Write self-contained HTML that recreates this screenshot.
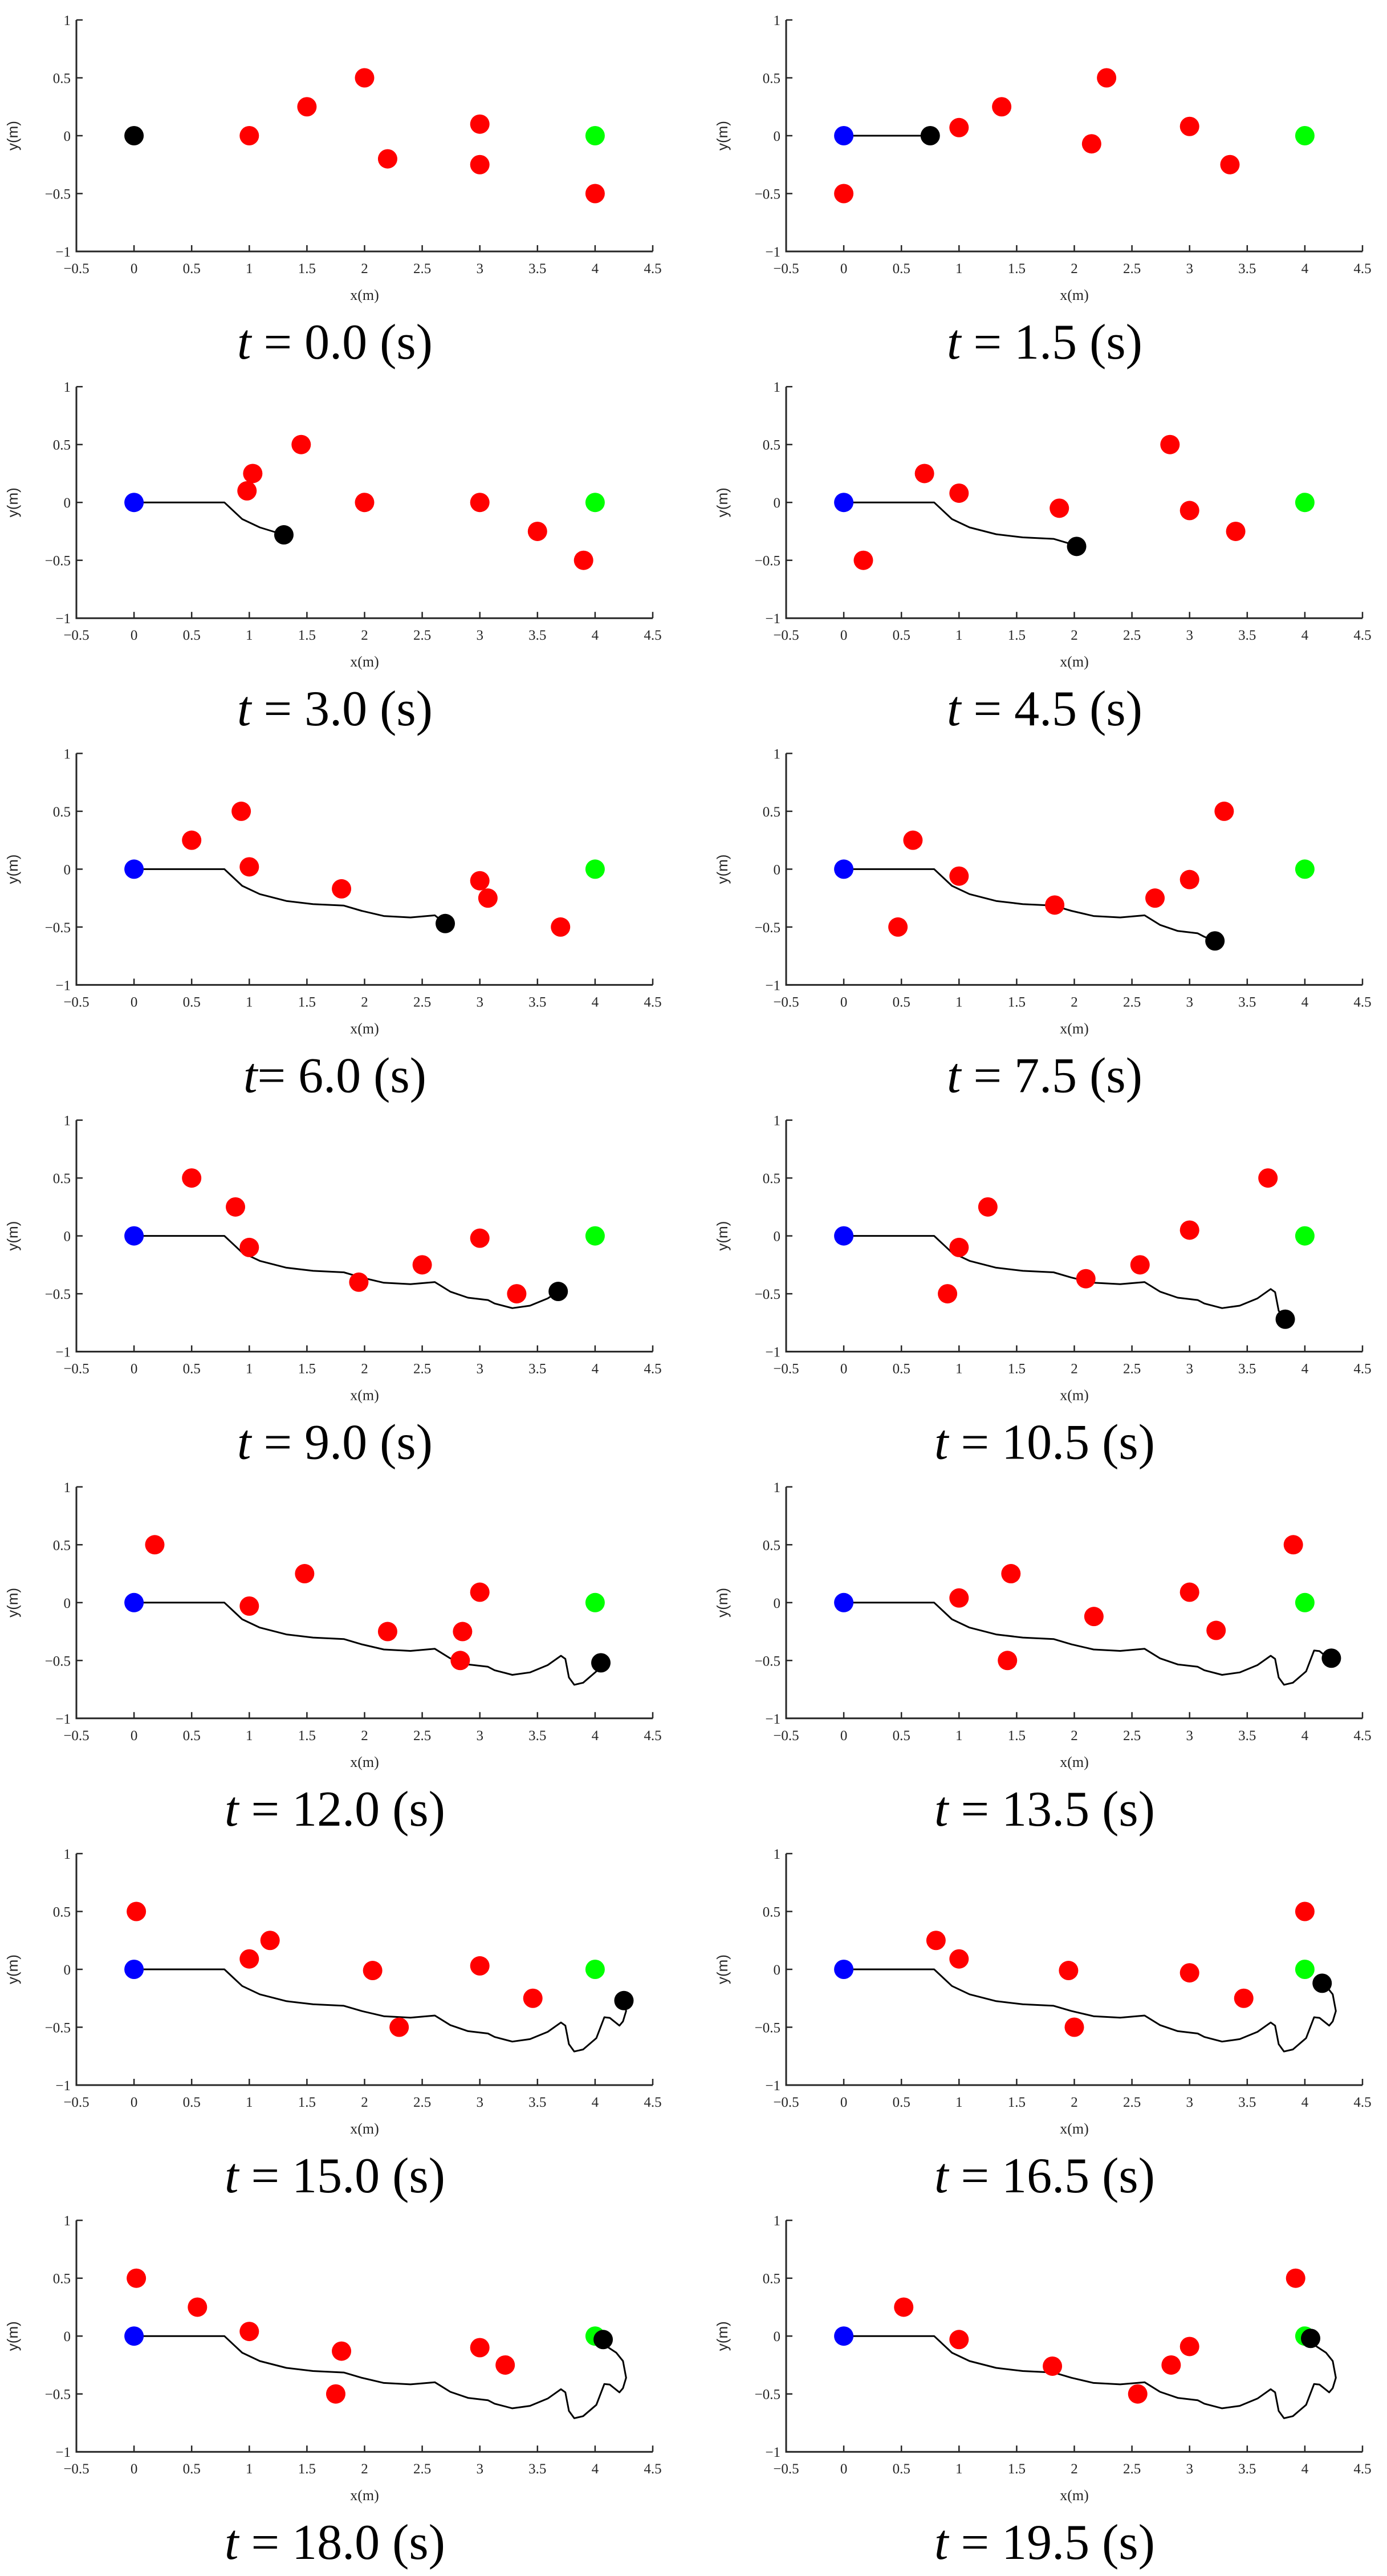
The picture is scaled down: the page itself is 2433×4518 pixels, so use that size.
<!DOCTYPE html>
<html><head><meta charset="utf-8">
<style>
html,body{margin:0;padding:0;background:#fff;}
svg{display:block;}
</style></head>
<body>
<svg id="fig" width="2433" height="4518" viewBox="0 0 2433 4518" xmlns="http://www.w3.org/2000/svg"></svg>
<script>
// ---- data ----
const times = ["0.0","1.5","3.0","4.5","6.0","7.5","9.0","10.5","12.0","13.5","15.0","16.5","18.0","19.5"];
const trajX = [0,0.784,0.861,0.938,1.091,1.322,1.553,1.82,1.975,2.167,2.398,2.61,2.744,2.897,3.07,3.128,3.282,3.435,3.589,3.704,3.742,3.773,3.819,3.896,4.011,4.08,4.127,4.211,4.242,4.269,4.242,4.184,4.088,4.05];
const trajY = [0,0,-0.072,-0.144,-0.216,-0.275,-0.302,-0.315,-0.36,-0.405,-0.417,-0.399,-0.482,-0.534,-0.554,-0.584,-0.624,-0.603,-0.54,-0.459,-0.486,-0.647,-0.71,-0.692,-0.594,-0.414,-0.419,-0.486,-0.45,-0.36,-0.216,-0.144,-0.081,-0.036];
const pathCount = [0,1,5,9,12,16,19,22,25,28,30,32,34,34];
const robotX = [0,0.75,1.3,2.02,2.7,3.22,3.68,3.83,4.05,4.23,4.25,4.15,4.07,4.05];
const robotY = [0,0,-0.28,-0.38,-0.47,-0.62,-0.48,-0.72,-0.52,-0.48,-0.27,-0.12,-0.03,-0.02];
const obsX = [
 [1,1.5,2,2.2,3,3,4],
 [0,1,1.37,2.15,2.28,3,3.35],
 [1.03,0.98,1.45,2,3,3.5,3.9],
 [0.17,0.7,1,1.87,2.83,3,3.4],
 [0.5,0.93,1,1.8,3,3.07,3.7],
 [0.47,0.6,1,1.83,2.7,3,3.3],
 [0.5,0.88,1,1.95,2.5,3,3.32],
 [0.9,1,1.25,2.1,2.57,3,3.68],
 [0.18,1,1.48,2.2,2.83,2.85,3],
 [1,1.42,1.45,2.17,3,3.23,3.9],
 [0.02,1,1.18,2.07,2.3,3,3.46],
 [0.8,1,1.95,2,3,3.47,4],
 [0.02,0.55,1,1.75,1.8,3,3.22],
 [0.52,1,1.81,2.55,2.84,3,3.92]
];
const obsY = [
 [0,0.25,0.5,-0.2,0.1,-0.25,-0.5],
 [-0.5,0.07,0.25,-0.07,0.5,0.08,-0.25],
 [0.25,0.1,0.5,0,0,-0.25,-0.5],
 [-0.5,0.25,0.08,-0.05,0.5,-0.07,-0.25],
 [0.25,0.5,0.02,-0.17,-0.1,-0.25,-0.5],
 [-0.5,0.25,-0.06,-0.31,-0.25,-0.09,0.5],
 [0.5,0.25,-0.1,-0.4,-0.25,-0.02,-0.5],
 [-0.5,-0.1,0.25,-0.37,-0.25,0.05,0.5],
 [0.5,-0.03,0.25,-0.25,-0.5,-0.25,0.09],
 [0.04,-0.5,0.25,-0.12,0.09,-0.24,0.5],
 [0.5,0.09,0.25,-0.01,-0.5,0.03,-0.25],
 [0.25,0.09,-0.01,-0.5,-0.03,-0.25,0.5],
 [0.5,0.25,0.04,-0.5,-0.13,-0.1,-0.25],
 [0.25,-0.03,-0.26,-0.5,-0.25,-0.09,0.5]
];
const xTicks = [-0.5,0,0.5,1,1.5,2,2.5,3,3.5,4,4.5];
const xTickLabels = ["\u22120.5","0","0.5","1","1.5","2","2.5","3","3.5","4","4.5"];
const yTicks = [-1,-0.5,0,0.5,1];
const yTickLabels = ["\u22121","\u22120.5","0","0.5","1"];
const startPt = [0,0];
const goalPt = [4,0];

// ---- drawing ----
const NS = "http://www.w3.org/2000/svg";
const fig = document.getElementById('fig');
function mk(tag, attrs, parent){
  const e = document.createElementNS(NS, tag);
  for (const k in attrs) e.setAttribute(k, attrs[k]);
  parent.appendChild(e); return e;
}
const LEFT0 = 134, RIGHT0 = 1379, AXW = 1011, TOP0 = 35, AXH = 406, PITCH = 643.2, R = 17;

times.forEach((t, i) => {
  const col = i % 2, row = Math.floor(i / 2);
  const ox = col ? RIGHT0 : LEFT0, oy = TOP0 + row * PITCH;
  const sx = v => ox + (v + 0.5) / 5 * AXW;
  const sy = v => oy + (1 - v) / 2 * AXH;
  const g = mk('g', {}, fig);
  
  

  if (pathCount[i] > 0) {
    let d = '';
    for (let k = 0; k < pathCount[i]; k++) d += (k ? 'L' : 'M') + sx(trajX[k]).toFixed(1) + ' ' + sy(trajY[k]).toFixed(1);
    d += 'L' + sx(robotX[i]).toFixed(1) + ' ' + sy(robotY[i]).toFixed(1);
    const p = mk('path', {d: d, fill: 'none', stroke: '#000', 'stroke-width': 3, 'stroke-linejoin': 'round'}, g);
    
    
  }
  if (i > 0) {
    const s = mk('circle', {cx: sx(startPt[0]), cy: sy(startPt[1]), r: R, fill: '#0000ff'}, g);
    
    
  }
  const gl = mk('circle', {cx: sx(goalPt[0]), cy: sy(goalPt[1]), r: R, fill: '#00ff00'}, g);
  
  
  obsX[i].forEach((x, j) => {
    const c = mk('circle', {cx: sx(x), cy: sy(obsY[i][j]), r: R, fill: '#ff0000'}, g);
    
    
  });
  const rb = mk('circle', {cx: sx(robotX[i]), cy: sy(robotY[i]), r: R, fill: '#000'}, g);
  
  

  const ax = mk('path', {d: `M${sx(-0.5)} ${sy(1)}V${sy(-1)}H${sx(4.5)}`, fill: 'none', stroke: '#262626', 'stroke-width': 3}, g);
  
  
  xTicks.forEach((v, j) => {
    const tk = mk('line', {x1: sx(v), x2: sx(v), y1: sy(-1), y2: sy(-1) - 11, stroke: '#262626', 'stroke-width': 2.5}, g);
    
    
    const tl = mk('text', {x: sx(v), y: sy(-1) + 38, 'text-anchor': 'middle', 'font-family': 'Liberation Serif, serif', 'font-size': 25, fill: '#262626'}, g);
    tl.textContent = xTickLabels[j];
    
    
  });
  yTicks.forEach((v, j) => {
    const tk = mk('line', {x1: sx(-0.5), x2: sx(-0.5) + 11, y1: sy(v), y2: sy(v), stroke: '#262626', 'stroke-width': 2.5}, g);
    
    
    const tl = mk('text', {x: sx(-0.5) - 10, y: sy(v) + 9, 'text-anchor': 'end', 'font-family': 'Liberation Serif, serif', 'font-size': 25, fill: '#262626'}, g);
    tl.textContent = yTickLabels[j];
    
    
  });
  const xl = mk('text', {x: sx(2), y: sy(-1) + 85, 'text-anchor': 'middle', 'font-family': 'Liberation Serif, serif', 'font-size': 26, fill: '#262626'}, g);
  xl.textContent = 'x(m)';
  
  
  const yx = ox - 103, yy = sy(0);
  const yl = mk('text', {x: yx, y: yy, 'text-anchor': 'middle', 'font-family': 'Liberation Sans, sans-serif', 'font-size': 26, fill: '#262626', transform: `rotate(-90 ${yx} ${yy})`}, g);
  yl.textContent = 'y(m)';
  
  

  const cap = mk('text', {x: sx(2) - 52, y: oy + 594, 'text-anchor': 'middle', 'font-family': 'Liberation Serif, serif', 'font-size': 88, fill: '#000'}, g);
  const ts = mk('tspan', {'font-style': 'italic'}, cap);
  ts.textContent = 't';
  const rest = mk('tspan', {}, cap);
  rest.textContent = (t === "6.0" ? '= ' : ' = ') + t + '  (s)';
  
  
});
</script>
</body></html>
